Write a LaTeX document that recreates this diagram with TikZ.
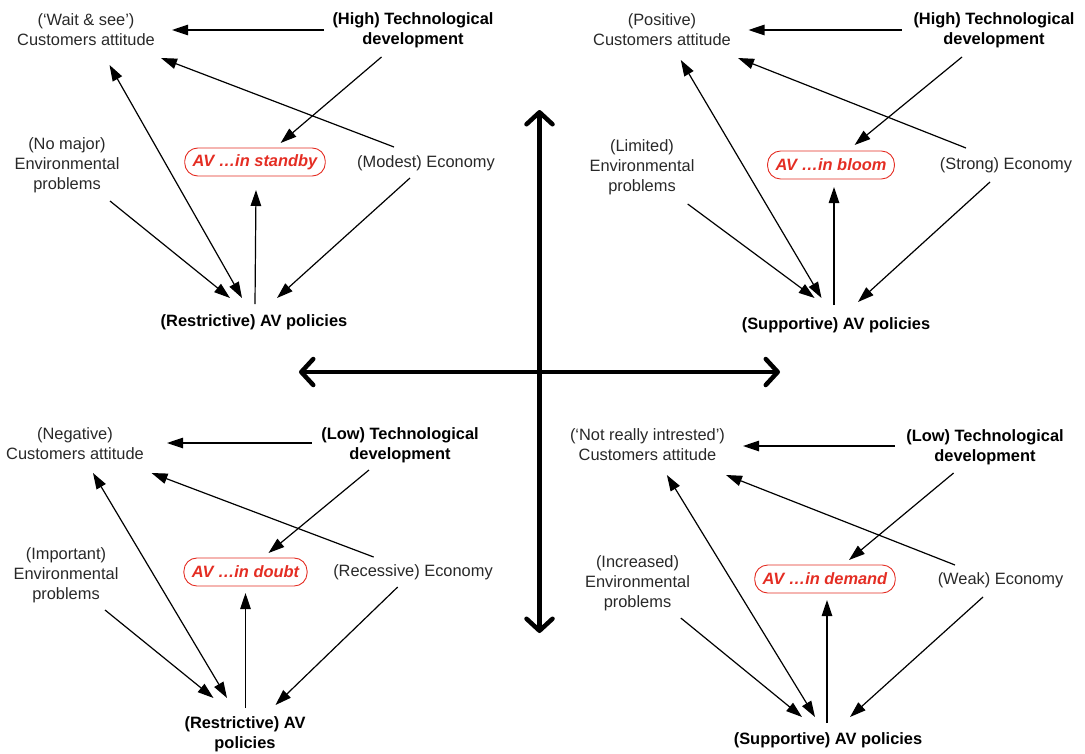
\documentclass[tikz,border=0pt]{standalone}
\usepackage{fontspec}
\setmainfont{Liberation Sans}
\usetikzlibrary{arrows.meta,calc}
\definecolor{avred}{RGB}{228,45,35}
\definecolor{txtgray}{RGB}{40,40,40}
\newcommand\myfs{\fontsize{16.4}{19.8}\selectfont}
\begin{document}
\begin{tikzpicture}[x=1pt,y=-1pt,
  lbl/.style={align=center,text=txtgray,inner sep=0pt,font=\myfs},
  blbl/.style={align=center,text=black,inner sep=0pt,font=\myfs\bfseries},
  avbox/.style={draw=avred,text=avred,font=\myfs\bfseries\itshape,rounded corners=13pt,
     minimum height=28pt,inner xsep=8pt,inner ysep=0pt,line width=0.9pt},
  arr/.style={line width=1.2pt,-{Triangle[length=16pt,width=10.5pt]}},
  darr/.style={line width=1.2pt,{Triangle[length=16pt,width=10.5pt]}-{Triangle[length=16pt,width=10.5pt]}},
  axisarr/.style={line width=4.5pt,{Straight Barb[length=12pt,width=26pt,round]}-{Straight Barb[length=12pt,width=26pt,round]}}]
\useasboundingbox (0,0) rectangle (1085,753);

% axes
\coordinate (axT) at (539.5,110);
\coordinate (axB) at (539.5,633);
\coordinate (axL) at (299,372);
\coordinate (axR) at (780,372);
\draw[axisarr] (axT) -- (axB);
\draw[axisarr] (axL) -- (axR);

% ---------- top left ----------
\node[lbl]  (c1)  at (86,30)   {(‘Wait \& see’)\\Customers attitude};
\node[blbl] (t1)  at (413,30)  {(High) Technological\\development};
\node[lbl]  (e1)  at (67,165)  {(No major)\\Environmental\\problems};
\node[avbox](a1)  at (255,162) {AV …in standby};
\node[lbl]  (ec1) at (426,163) {(Modest) Economy};
\node[blbl] (p1)  at (254,322) {(Restrictive) AV policies};
\draw[arr]  ($(t1)+(-89,0)$) -- ($(c1)+(86,0)$);
\draw[arr]  ($(e1)+(43,36)$) -- ($(p1)+(-24,-24)$);
\draw[darr] ($(p1)+(-12,-24)$) -- ($(c1)+(23.5,35)$);
\draw[arr]  ($(p1)+(1,-18)$) -- ($(a1)+(1,28)$);
\draw[arr]  ($(ec1)+(-16,15)$) -- ($(p1)+(23,-24)$);
\draw[arr]  ($(t1)+(-31.5,27)$) -- ($(a1)+(25.6,-19)$);
\draw[arr]  ($(ec1)+(-32,-16)$) -- ($(c1)+(75,28)$);

% ---------- top right ----------
\node[lbl]  (c2)  at (662,30)  {(Positive)\\Customers attitude};
\node[blbl] (t2)  at (994,30)  {(High) Technological\\development};
\node[lbl]  (e2)  at (642,167) {(Limited)\\Environmental\\problems};
\node[avbox](a2)  at (831,165) {AV …in bloom};
\node[lbl]  (ec2) at (1006,165){(Strong) Economy};
\node[blbl] (p2)  at (836,325) {(Supportive) AV policies};
\draw[arr]  ($(t2)+(-92.5,0)$) -- ($(c2)+(86.5,0)$);
\draw[arr]  ($(e2)+(45.7,37)$) -- ($(p2)+(-21.4,-27)$);
\draw[darr] ($(p2)+(-14.5,-27)$) -- ($(c2)+(18.8,30)$);
\draw[arr]  ($(p2)+(-2,-20)$) -- ($(a2)+(3,22)$);
\draw[arr]  ($(ec2)+(-16,17)$) -- ($(p2)+(22,-23)$);
\draw[arr]  ($(t2)+(-32,27)$) -- ($(a2)+(23.6,-20)$);
\draw[arr]  ($(ec2)+(-40,-17)$) -- ($(c2)+(76,28)$);

% ---------- bottom left ----------
\node[lbl]  (c3)  at (75,444)  {(Negative)\\Customers attitude};
\node[blbl] (t3)  at (400,445) {(Low) Technological\\development};
\node[lbl]  (e3)  at (66,575)  {(Important)\\Environmental\\problems};
\node[avbox](a3)  at (245.5,572) {AV …in doubt};
\node[lbl]  (ec3) at (413,572) {(Recessive) Economy};
\node[blbl] (p3)  at (245,734) {(Restrictive) AV\\policies};
\draw[arr]  ($(t3)+(-88.4,-2)$) -- ($(c3)+(92,-1)$);
\draw[arr]  ($(e3)+(39,35)$) -- ($(p3)+(-31.5,-36)$);
\draw[darr] ($(p3)+(-18,-36)$) -- ($(c3)+(18,29)$);
\draw[arr]  ($(p3)+(0.5,-26)$) -- ($(a3)+(0,21)$);
\draw[arr]  ($(ec3)+(-15.3,15)$) -- ($(p3)+(30.5,-29)$);
\draw[arr]  ($(t3)+(-31,25)$) -- ($(a3)+(23,-19)$);
\draw[arr]  ($(ec3)+(-39.4,-15)$) -- ($(c3)+(76.5,29)$);

% ---------- bottom right ----------
\node[lbl]  (c4)  at (647.5,445) {(‘Not really intrested’)\\Customers attitude};
\node[blbl] (t4)  at (985,447)   {(Low) Technological\\development};
\node[lbl]  (e4)  at (637.5,583) {(Increased)\\Environmental\\problems};
\node[avbox](a4)  at (825,579)   {AV …in demand};
\node[lbl]  (ec4) at (1000.5,580){(Weak) Economy};
\node[blbl] (p4)  at (828,740)   {(Supportive) AV policies};
\draw[arr]  ($(t4)+(-90.5,-1)$) -- ($(c4)+(95.5,1)$);
\draw[arr]  ($(e4)+(43.3,35)$) -- ($(p4)+(-26,-23)$);
\draw[darr] ($(p4)+(-13,-23)$) -- ($(c4)+(19.4,30)$);
\draw[arr]  ($(p4)+(-1,-17)$) -- ($(a4)+(2,21)$);
\draw[arr]  ($(ec4)+(-17.5,17)$) -- ($(p4)+(22,-23)$);
\draw[arr]  ($(t4)+(-31.4,26)$) -- ($(a4)+(24,-19)$);
\draw[arr]  ($(ec4)+(-45.5,-15)$) -- ($(c4)+(78.5,30)$);
\end{tikzpicture}
\end{document}
